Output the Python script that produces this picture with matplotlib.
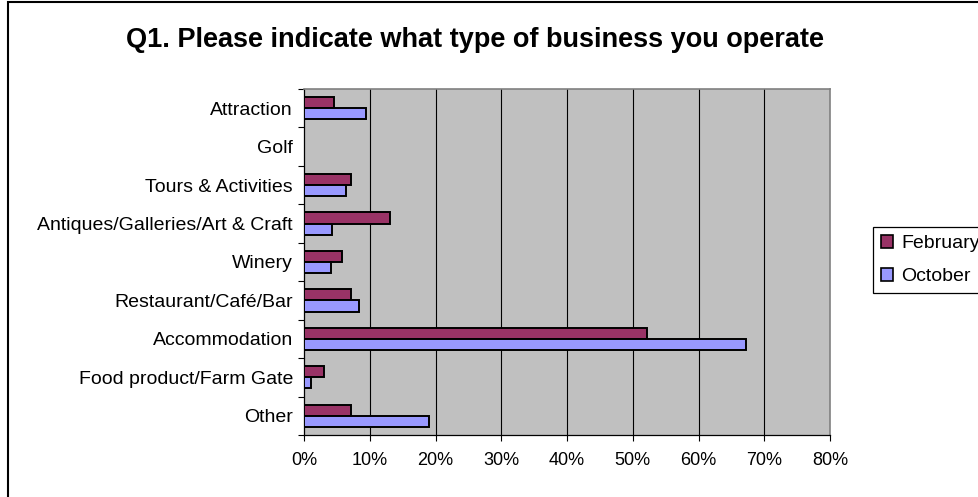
import matplotlib
matplotlib.use("Agg")
import matplotlib.pyplot as plt
from matplotlib.patches import Rectangle, Patch
from matplotlib.ticker import FixedLocator, FuncFormatter
import numpy as np

plt.rcParams['font.family'] = ['Liberation Sans', 'DejaVu Sans']

categories = ["Attraction", "Golf", "Tours & Activities",
              "Antiques/Galleries/Art & Craft", "Winery",
              "Restaurant/Café/Bar", "Accommodation",
              "Food product/Farm Gate", "Other"]
february = [4.5, 0.0, 7.2, 13.1, 5.8, 7.2, 52.1, 3.0, 7.2]
october = [9.5, 0.0, 6.4, 4.2, 4.1, 8.3, 67.3, 1.1, 19.0]
series_names = ["February", "October"]
x_ticks = [0, 10, 20, 30, 40, 50, 60, 70, 80]
title = "Q1. Please indicate what type of business you operate"

W, H = 979, 497
fig = plt.figure(figsize=(W / 100, H / 100), dpi=100)
fig.patch.set_facecolor("white")

# outer chart frame
fig.add_artist(Rectangle((8 / W, -0.05), 1.0, 1.05 - 2 / H,
                         transform=fig.transFigure, fill=False,
                         edgecolor="black", lw=1.5, clip_on=False))

left, right, top, bottom = 304, 830, 89, 435
ax = fig.add_axes([left / W, 1 - bottom / H, (right - left) / W, (bottom - top) / H])
ax.set_facecolor("#C0C0C0")

y = np.arange(len(categories))
bh = 0.29
ax.barh(y - bh / 2, february, height=bh, color="#993366",
        edgecolor="black", lw=1.4, zorder=3)
ax.barh(y + bh / 2, october, height=bh, color="#9999FF",
        edgecolor="black", lw=1.4, zorder=3)

ax.set_xlim(0, 80)
ax.set_ylim(len(categories) - 0.5, -0.5)

for v in x_ticks[1:-1]:
    ax.axvline(v, color="black", lw=0.8, zorder=1)

ax.set_xticks(x_ticks)
ax.xaxis.set_major_formatter(FuncFormatter(lambda v, p: f"{int(v)}%"))
ax.tick_params(axis="x", direction="out", length=4.5, width=0.8,
               labelsize=13, pad=8)

ax.set_yticks(y)
ax.set_yticklabels(categories)
ax.yaxis.set_minor_locator(FixedLocator(np.arange(-0.5, len(categories), 1.0)))
ax.tick_params(axis="y", which="major", length=0, labelsize=14, pad=8)
ax.tick_params(axis="y", which="minor", direction="out", length=4, width=0.8)

for s in ["left", "bottom"]:
    ax.spines[s].set_color("black")
    ax.spines[s].set_linewidth(0.9)
for s in ["top", "right"]:
    ax.spines[s].set_color("#808080")
    ax.spines[s].set_linewidth(1.2)

fig.text(0.485, 1 - 40 / H, title, ha="center", va="center",
         fontsize=19.5, fontweight="bold")

handles = [Patch(facecolor="#993366", edgecolor="black", lw=1.2),
           Patch(facecolor="#9999FF", edgecolor="black", lw=1.2)]
leg = fig.legend(handles, series_names, loc="upper left",
                 bbox_to_anchor=(873 / W, 1 - 227 / H), borderaxespad=0,
                 frameon=True, fancybox=False, framealpha=1,
                 edgecolor="black", fontsize=14, handlelength=0.65,
                 handleheight=0.65, handletextpad=0.4, labelspacing=0.8,
                 borderpad=0.4)
leg.get_frame().set_linewidth(0.9)

fig.savefig("out.png", dpi=100)
